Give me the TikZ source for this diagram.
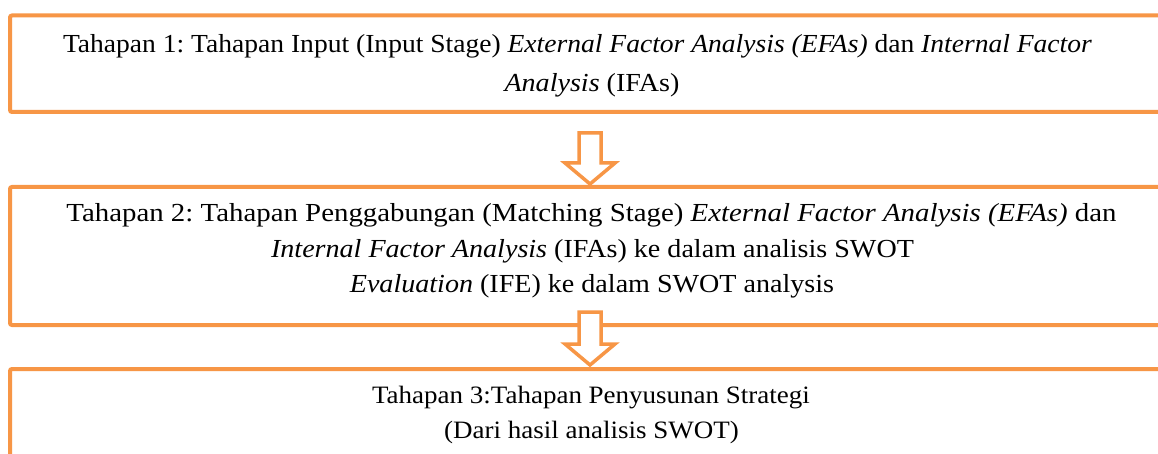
\documentclass[tikz,border=0pt]{standalone}
\usepackage{fontspec}
\setmainfont[FakeStretch=1.08]{Liberation Serif}
\newfontfamily\widefont[FakeStretch=1.11]{Liberation Serif}
\newfontfamily\narrowfont[FakeStretch=1.06]{Liberation Serif}
\usetikzlibrary{calc}
\definecolor{acc}{HTML}{F79646}
\frenchspacing
\newcommand{\blockarr}[2]{%
  \draw[barrow] let \p1=(#1), \p2=(#2) in
    (\x1-11pt,\y1) -- (\x1+11pt,\y1) -- (\x1+11pt,\y2+21pt) -- (\x1+25pt,\y2+21pt)
    -- (\x2,\y2) -- (\x1-25pt,\y2+21pt) -- (\x1-11pt,\y2+21pt) -- cycle;}
\begin{document}
\begin{tikzpicture}[x=1pt,y=-1pt,
  box/.style={draw=acc, line width=4pt, rounded corners=2pt, fill=white, outer sep=0pt, inner sep=0pt},
  txt/.style={anchor=base, font=\fontsize{26}{32}\selectfont, inner sep=0pt},
  stxt/.style={anchor=base, font=\fontsize{25}{30}\selectfont, inner sep=0pt},
  barrow/.style={draw=acc, line width=3.5pt, fill=white, line join=miter}]
\useasboundingbox (0,0) rectangle (1158,454);
\clip (0,0) rectangle (1158,454);
\node[box, minimum width=1162pt, minimum height=96.5pt, anchor=north west] (b1) at (10,15.5) {};
\node[box, minimum width=1162pt, minimum height=138pt, anchor=north west] (b2) at (10,187) {};
\node[box, minimum width=1162pt, minimum height=100pt, anchor=north west] (b3) at (10,369) {};
\coordinate (a1s) at ($(b1.south)+(-1,21)$);
\coordinate (a1e) at ($(b2.north)+(-1,-3)$);
\coordinate (a2s) at ($(b2.south)+(-1,-13)$);
\coordinate (a2e) at ($(b3.north)+(-1,-4)$);
\blockarr{a1s}{a1e}
\blockarr{a2s}{a2e}
\node[txt, font=\narrowfont\fontsize{26}{32}\selectfont] (t1a) at (577.5,53) {Tahapan 1: Tahapan Input (Input Stage) \textit{External Factor Analysis (EFAs)} dan \textit{Internal Factor}};
\node[txt] (t1b) at (592,92) {\textit{Analysis} (IFAs)};
\node[txt, font=\widefont\fontsize{26}{32}\selectfont] (t2a) at (591.5,222) {Tahapan 2: Tahapan Penggabungan (Matching Stage) \textit{External Factor Analysis (EFAs)} dan};
\node[txt] (t2b) at (592.5,258) {\textit{Internal Factor Analysis} (IFAs) ke dalam analisis SWOT};
\node[txt] (t2c) at (592,292) {\textit{Evaluation} (IFE) ke dalam SWOT analysis};
\node[stxt] (t3a) at (591,403) {Tahapan 3:Tahapan Penyusunan Strategi};
\node[stxt] (t3b) at (591.5,438) {(Dari hasil analisis SWOT)};
\end{tikzpicture}
\end{document}
